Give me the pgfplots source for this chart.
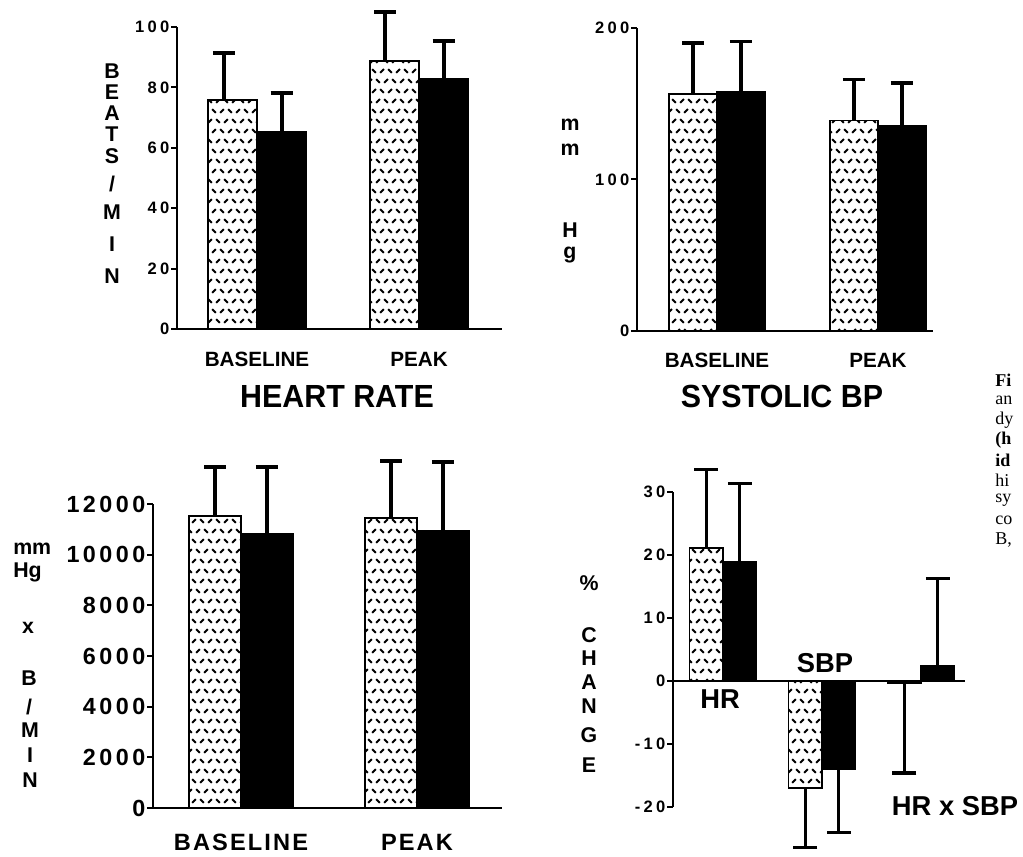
\documentclass[border=0pt]{standalone}
\usepackage{fontspec}
\setmainfont{Liberation Sans}
\newfontfamily\spaced{Liberation Sans}[LetterSpace=20]
\newfontfamily\spacedb{Liberation Sans}[LetterSpace=15]
\newfontfamily\spacedc{Liberation Sans}[LetterSpace=9]
\newfontfamily\capfont{Liberation Serif}
\usepackage{graphicx}
\usepackage{pgfplots}
\pgfplotsset{compat=1.18}
\usetikzlibrary{patterns}

% sparse short-dash pattern: rows of "\" and "/" drifting diagonally
\pgfdeclarepatternformonly{herring}{\pgfpoint{-1pt}{-1pt}}{\pgfpoint{13pt}{31pt}}{\pgfpoint{12pt}{30pt}}{%
  \pgfsetlinewidth{1.5pt}%
  % row 0, y=26.25
  \pgfpathmoveto{\pgfpoint{0.1pt}{27.65pt}}\pgfpathlineto{\pgfpoint{2.9pt}{24.85pt}}%
  \pgfpathmoveto{\pgfpoint{6.1pt}{24.85pt}}\pgfpathlineto{\pgfpoint{8.9pt}{27.65pt}}%
  % row 1, y=18.75
  \pgfpathmoveto{\pgfpoint{3.1pt}{20.15pt}}\pgfpathlineto{\pgfpoint{5.9pt}{17.35pt}}%
  \pgfpathmoveto{\pgfpoint{9.1pt}{17.35pt}}\pgfpathlineto{\pgfpoint{11.9pt}{20.15pt}}%
  % row 2, y=11.25
  \pgfpathmoveto{\pgfpoint{6.1pt}{12.65pt}}\pgfpathlineto{\pgfpoint{8.9pt}{9.85pt}}%
  \pgfpathmoveto{\pgfpoint{0.1pt}{9.85pt}}\pgfpathlineto{\pgfpoint{2.9pt}{12.65pt}}%
  % row 3, y=3.75
  \pgfpathmoveto{\pgfpoint{9.1pt}{5.15pt}}\pgfpathlineto{\pgfpoint{11.9pt}{2.35pt}}%
  \pgfpathmoveto{\pgfpoint{3.1pt}{2.35pt}}\pgfpathlineto{\pgfpoint{5.9pt}{5.15pt}}%
  \pgfusepath{stroke}%
}

\newcommand\tickfont{\spaced\bfseries\fontsize{12.4}{13}\selectfont}
\newcommand\bigtick{\spacedb\bfseries\fontsize{17.5}{18}\selectfont}
\newcommand\catfont{\bfseries\fontsize{15.5}{16}\selectfont}
\newcommand\bigcat{\spacedc\bfseries\fontsize{17.7}{18}\selectfont}
\newcommand\labfont{\bfseries\fontsize{16}{17}\selectfont}
\newcommand\titlefont{\bfseries\fontsize{24}{25}\selectfont}
\newcommand\hrfont{\bfseries\fontsize{20.5}{21}\selectfont}
\newcommand\capt{\capfont\fontsize{13.5}{14}\selectfont}

\pgfplotsset{
  panel/.style={
    scale only axis, clip=false, anchor=south west,
    axis x line*=bottom, axis y line*=left,
    axis line style={-, line width=1.5pt},
    x axis line style={-}, y axis line style={-},
    enlargelimits=false,
    scaled y ticks=false,
    xtick style={draw=none},
    ytick style={line width=1.5pt, black},
    tick align=outside, major tick length=4.5pt,
    /pgf/number format/assume math mode=true,
  },
  hatch/.style={ybar, bar shift=0pt, pattern=herring, pattern color=black, draw=black, line width=1.2pt},
  solidbar/.style={ybar, bar shift=0pt, fill=black, draw=black, line width=1.2pt},
  erronly/.style={draw=none, mark=none, forget plot},
  errup/.style 2 args={error bars/.cd, y dir=plus, y explicit,
     error bar style={line width=#1, black, solid},
     error mark options={rotate=90, line width=#1, mark size=#2, black}},
  errdown/.style 2 args={error bars/.cd, y dir=minus, y explicit,
     error bar style={line width=#1, black, solid},
     error mark options={rotate=90, line width=#1, mark size=#2, black}},
}

\begin{document}
\begin{tikzpicture}
\fill[white] (0,0) rectangle (767.25pt,642pt);

% ---------- Panel 1: heart rate ----------
\begin{axis}[panel, at={(132.75pt,395.25pt)},
  width=243.75pt, height=226.5pt,
  xmin=-0.494, xmax=1.512, ymin=0, ymax=100,
  ytick={0,20,40,60,80,100}, yticklabels={0,20,40,60,80,100},
  yticklabel style={font=\tickfont, inner sep=1pt},
  xtick={0,1}, xticklabels={BASELINE,PEAK},
  xticklabel style={font=\catfont, inner sep=0pt, anchor=base, yshift=-24pt},
  bar width=0.3025]
\addplot[hatch] coordinates {(-0.1513,75.8) (0.8487,88.7)};
\addplot[erronly, errup={3pt}{8.25pt}] coordinates {(-0.204,75.8) +- (0,15.6) (0.79,88.7) +- (0,16.3)};
\addplot[solidbar, errup={3pt}{8.25pt}] coordinates {(0.1513,65.2) +- (0,12.9) (1.1513,82.8) +- (0,12.6)};
\end{axis}

% ---------- Panel 2: systolic BP ----------
\begin{axis}[panel, at={(477.75pt,393.75pt)},
  width=222pt, height=227.25pt,
  xmin=-0.497, xmax=1.342, ymin=0, ymax=200,
  ytick={0,100,200}, yticklabels={0,100,200},
  yticklabel style={font=\tickfont, inner sep=1pt},
  xtick={0,1}, xticklabels={BASELINE,PEAK},
  xticklabel style={font=\catfont, inner sep=0pt, anchor=base, yshift=-23pt},
  bar width=0.298]
\addplot[hatch, errup={2.6pt}{8.25pt}] coordinates {(-0.149,156.4) +- (0,33.6) (0.851,139) +- (0,27)};
\addplot[solidbar, errup={2.6pt}{8.25pt}] coordinates {(0.149,158) +- (0,33) (1.149,135.5) +- (0,28.2)};
\end{axis}

% ---------- Panel 3: rate-pressure product ----------
\begin{axis}[panel, at={(114.75pt,36pt)},
  width=261.75pt, height=228pt,
  xmin=-0.5, xmax=1.483, ymin=0, ymax=12000,
  ytick={0,2000,4000,6000,8000,10000,12000},
  yticklabels={0,2000,4000,6000,8000,10000,12000},
  yticklabel style={font=\bigtick, inner sep=1pt},
  xtick={0,1}, xticklabels={BASELINE,PEAK},
  xticklabel style={font=\bigcat, inner sep=0pt, anchor=base, yshift=-27pt},
  bar width=0.2955]
\addplot[hatch, errup={3pt}{8.25pt}] coordinates {(-0.1477,11528) +- (0,1935) (0.8523,11449) +- (0,2251)};
\addplot[solidbar, errup={3pt}{8.25pt}] coordinates {(0.1477,10817) +- (0,2643) (1.1477,10935) +- (0,2725)};
\end{axis}

% ---------- Panel 4: percent change ----------
\begin{axis}[panel, at={(504.75pt,36.75pt)},
  axis x line*=middle,
  width=219pt, height=236.25pt,
  xmin=-0.505, xmax=2.444, ymin=-20, ymax=30,
  ytick={-20,-10,0,10,20,30}, yticklabels={-20,-10,0,10,20,30},
  yticklabel style={font=\tickfont, inner sep=1pt},
  xtick=\empty,
  bar width=0.338]
\addplot[hatch, errup={2.3pt}{9pt}] coordinates {(-0.169,21.1) +- (0,12.4)};
\addplot[hatch, errdown={2.3pt}{9pt}] coordinates {(0.831,-17) +- (0,9.5) (1.831,-0.3) +- (0,14.3)};
\addplot[solidbar, errup={2.3pt}{9pt}] coordinates {(0.169,19.0) +- (0,12.3) (2.169,2.4) +- (0,13.8)};
\addplot[solidbar, errdown={2.3pt}{9pt}] coordinates {(1.169,-14) +- (0,10.1)};
\end{axis}

% ---------- text in pixel coordinates ----------
\begin{scope}[x=0.75pt,y=-0.75pt,yshift=642pt]
\tikzset{L/.style={font=\labfont, inner sep=0pt}}
% panel 1 y label
\node[L] at (112,71) {B};
\node[L] at (112,92) {E};
\node[L] at (112,113) {A};
\node[L] at (112,134) {T};
\node[L] at (112,156) {S};
\node[L] at (112,184) {/};
\node[L] at (112,212) {M};
\node[L] at (112,244) {I};
\node[L] at (112,276) {N};
% panel 2 y label
\node[L] at (570,125) {m};
\node[L] at (570,150) {m};
\node[L] at (570,230) {H};
\node[L] at (570,255) {g};
% panel 3 y label
\node[L, anchor=west] at (13,549) {mm};
\node[L, anchor=west] at (13,572) {Hg};
\node[L] at (28,628) {x};
\node[L] at (29,678) {B};
\node[L] at (29,707) {/};
\node[L] at (30,730) {M};
\node[L] at (30,755) {I};
\node[L] at (30,780) {N};
% panel 4 y label
\node[L] at (589,583) {\%};
\node[L] at (589,635) {C};
\node[L] at (589,658) {H};
\node[L] at (589,682) {A};
\node[L] at (589,706) {N};
\node[L] at (589,735) {G};
\node[L] at (589,765) {E};
% panel 4 category labels
\node[font=\hrfont, inner sep=0pt] at (720,699) {HR};
\node[font=\hrfont, inner sep=0pt] at (825,663) {SBP};
\node[font=\hrfont, inner sep=0pt] at (955,806) {HR x SBP};
% titles
\node[font=\titlefont, inner sep=0pt] at (337,396) {\scalebox{0.95}[1]{HEART RATE}};
\node[font=\titlefont, inner sep=0pt] at (782,396) {\scalebox{0.95}[1]{SYSTOLIC BP}};
% cropped caption at the right edge
\tikzset{C/.style={font=\capt, inner sep=0pt, anchor=west}}
\node[C] at (995,380) {\textbf{Fi}};
\node[C] at (995,400) {an};
\node[C] at (995,420) {dy};
\node[C] at (995,440) {\textbf{(h}};
\node[C] at (995,460) {\textbf{id}};
\node[C] at (995,480) {hi};
\node[C] at (995,500) {sy};
\node[C] at (995,520) {co};
\node[C] at (995,540) {B,};
\end{scope}

\pgfresetboundingbox
\useasboundingbox (0,0) rectangle (767.25pt,642pt);
\end{tikzpicture}
\end{document}
